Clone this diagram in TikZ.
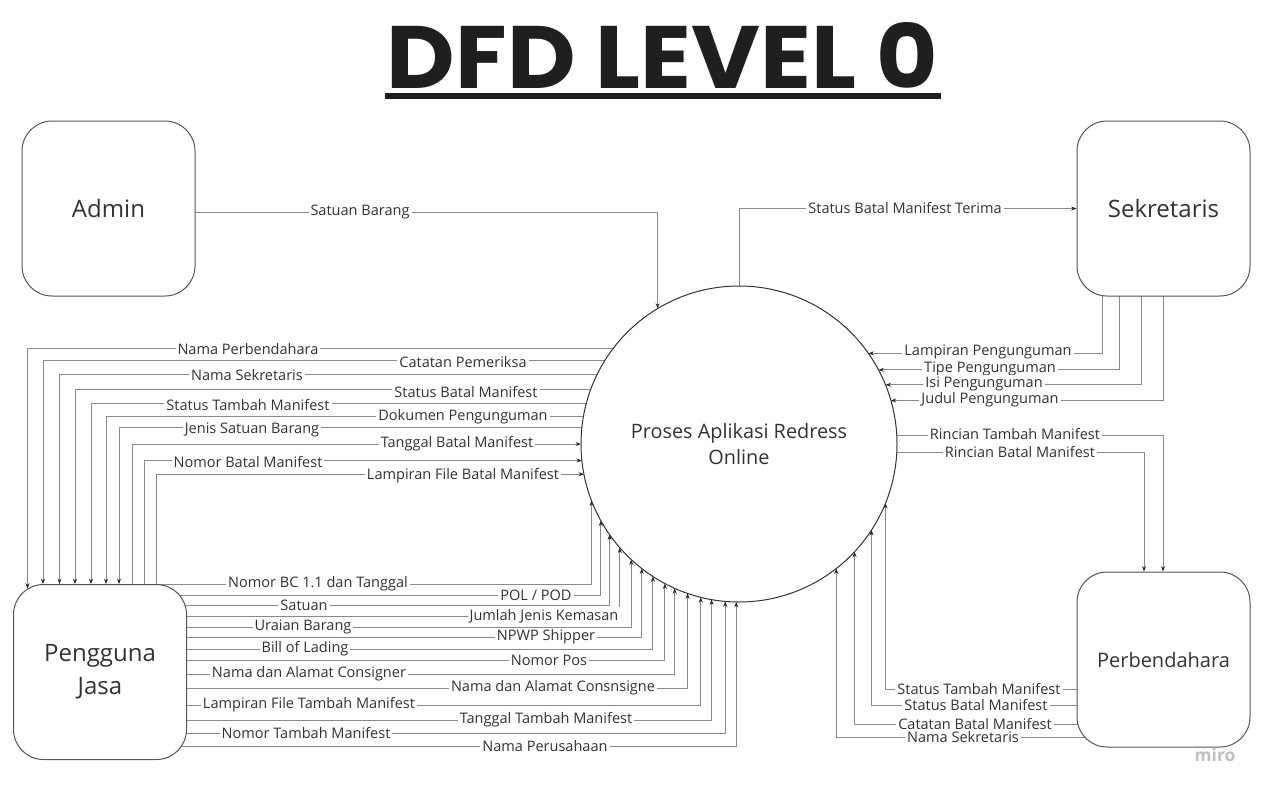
\documentclass[tikz,border=0pt]{standalone}
\usepackage{fontspec}
\usepackage{graphicx}
\setmainfont{Open Sans}
\newfontfamily\titlefont{Poppins}
\usetikzlibrary{arrows.meta,calc,backgrounds}
\definecolor{linegray}{HTML}{8A8A8A}
\definecolor{boxgray}{HTML}{555555}
\definecolor{txtc}{HTML}{333333}
\def\leftout{Nama Perbendahara/349/27.5/248/4.6, Catatan Pemeriksa/362/43/463/0, Nama Sekretaris/375/59.5/247/0, Status Batal Manifest/392/75/466/0, Status Tambah Manifest/405/91/248/0, Dokumen Pengunguman/417/106/463/0, Jenis Satuan Barang/430/119/252/0}
\def\leftin{Tanggal Batal Manifest/444/132/457, Nomor Batal Manifest/462/144.5/248, Lampiran File Batal Manifest/476/156/463}
\def\bottomlist{{POL / POD}/595/602/536, Satuan/605/611/304, Jumlah Jenis Kemasan/616/621/544, Uraian Barang/627/632/303, NPWP Shipper/637/643/546, Bill of Lading/649/654/305, Nomor Pos/660/666/549, Nama dan Alamat Consigner/674/677/309, Nama dan Alamat Consnsigne/688/690/553, Lampiran File Tambah Manifest/705/702/309, Tanggal Tambah Manifest/720/714/546, Nomor Tambah Manifest/733/727/306, Nama Perusahaan/746/738/545}
\def\seklist{Lampiran Pengunguman/352/1102/988, Tipe Pengunguman/369/1119/990, Isi Pengunguman/384/1141/984, Judul Pengunguman/400/1163/990}
\def\rinclist{Rincian Tambah Manifest/434/1163/1015, Rincian Batal Manifest/452/1144/1020}
\def\perblist{Status Tambah Manifest/689/886/979, Status Batal Manifest/705/872/976, Catatan Batal Manifest/724/856/975, Nama Sekretaris/737/837/963}
\begin{document}
\begin{tikzpicture}[x=0.75pt,y=-0.75pt,
  entity/.style={draw=boxgray, fill=white, rounded corners=22.5pt, minimum width=129.75pt, minimum height=131.25pt, line width=0.75pt, font=\fontsize{18}{25}\selectfont, text=txtc, align=center, inner sep=0pt},
  proc/.style={circle, draw=black!80, fill=white, minimum size=237pt, inner sep=0pt, outer sep=0pt, line width=0.75pt, font=\fontsize{14.9}{20}\selectfont, align=center, text=txtc},
  flow/.style={draw=linegray, line width=0.75pt},
  arrowend/.style={-{Stealth[length=4pt,width=3pt,color=black!85]}},
  lbl/.style={fill=white, inner sep=1.5pt, font=\fontsize{10.9}{13}\selectfont, text=txtc}]
\useasboundingbox (0,0) rectangle (1265,790);
% title
\node[inner sep=0pt, text=black!88] (title) at (662.5,55) {\resizebox{413.25pt}{49.5pt}{\titlefont\bfseries DFD LEVEL 0}};
\draw[line width=4.5pt, black!88] ($(title.south west)+(-2,8)$) -- ($(title.south east)+(3,8)$);
% entities
\node[entity] (admin) at (108.5,208.5) {Admin};
\node[entity] (sek) at (1163.5,208.5) {Sekretaris};
\node[entity] (pj) at (100,672) {Pengguna\\Jasa};
\node[entity, font=\fontsize{15}{20}\selectfont] (perb) at (1163.5,659.5) {Perbendahara};
\node[proc] (circ) at (739,444) {Proses Aplikasi Redress\\Online};
\node[text=black!25, font=\fontsize{13}{13}\selectfont\bfseries] (miro) at (1215,755) {miro};
% connectors
\begin{scope}[on background layer]
  \foreach \lab/\y/\vx/\lx/\dy in \leftout {
    \pgfmathsetmacro\ang{180-asin((444-\y)/158)}
    \draw[flow,arrowend] (circ.\ang) -| ($(pj.north -| \vx,0)+(0,\dy)$);
  }
  \foreach \lab/\y/\vx/\lx in \leftin {
    \pgfmathsetmacro\ang{180-asin((444-\y)/158)}
    \draw[flow,arrowend] (pj.north -| \vx,0) |- (circ.\ang);
  }
  \pgfmathsetmacro\ang{360-acos((592-739)/158)}
  \draw[flow,arrowend] (pj.north -| 156,0) -| (circ.\ang);
  \foreach \lab/\y/\vx/\lx in \bottomlist {
    \pgfmathsetmacro\ang{360-acos((\vx-739)/158)}
    \draw[flow,arrowend] (pj.center |- 0,\y) -| (circ.\ang);
  }
  \foreach \lab/\y/\vx/\lx in \seklist {
    \pgfmathsetmacro\ang{mod(asin((444-\y)/158)+360,360)}
    \draw[flow,arrowend] (sek.center -| \vx,0) |- (circ.\ang);
  }
  \foreach \lab/\y/\vx/\lx in \rinclist {
    \pgfmathsetmacro\ang{mod(asin((444-\y)/158)+360,360)}
    \draw[flow,arrowend] (circ.\ang) -| (perb.north -| \vx,0);
  }
  \foreach \lab/\y/\vx/\lx in \perblist {
    \pgfmathsetmacro\ang{360-acos((\vx-739)/158)}
    \draw[flow,arrowend] (perb.center |- 0,\y) -| (circ.\ang);
  }
  \pgfmathsetmacro\ang{acos((656-739)/158)}
  \draw[flow,arrowend] (admin.center |- 0,212) -| (circ.\ang);
  \draw[flow,arrowend] (circ.90) |- (sek.west);
\end{scope}
% labels
\foreach \lab/\y/\vx/\lx/\dy in \leftout {\node[lbl] at (\lx,\y) {\lab};}
\foreach \lab/\y/\vx/\lx in \leftin {\node[lbl] at (\lx,\y) {\lab};}
\node[lbl] at (318,584) {Nomor BC 1.1 dan Tanggal};
\foreach \lab/\y/\vx/\lx in \bottomlist {\node[lbl] at (\lx,\y) {\lab};}
\foreach \lab/\y/\vx/\lx in \seklist {\node[lbl] at (\lx,\y) {\lab};}
\foreach \lab/\y/\vx/\lx in \rinclist {\node[lbl] at (\lx,\y) {\lab};}
\foreach \lab/\y/\vx/\lx in \perblist {\node[lbl] at (\lx,\y) {\lab};}
\node[lbl] at (360,212) {Satuan Barang};
\node[lbl] at (905,208) {Status Batal Manifest Terima};
\end{tikzpicture}
\end{document}
